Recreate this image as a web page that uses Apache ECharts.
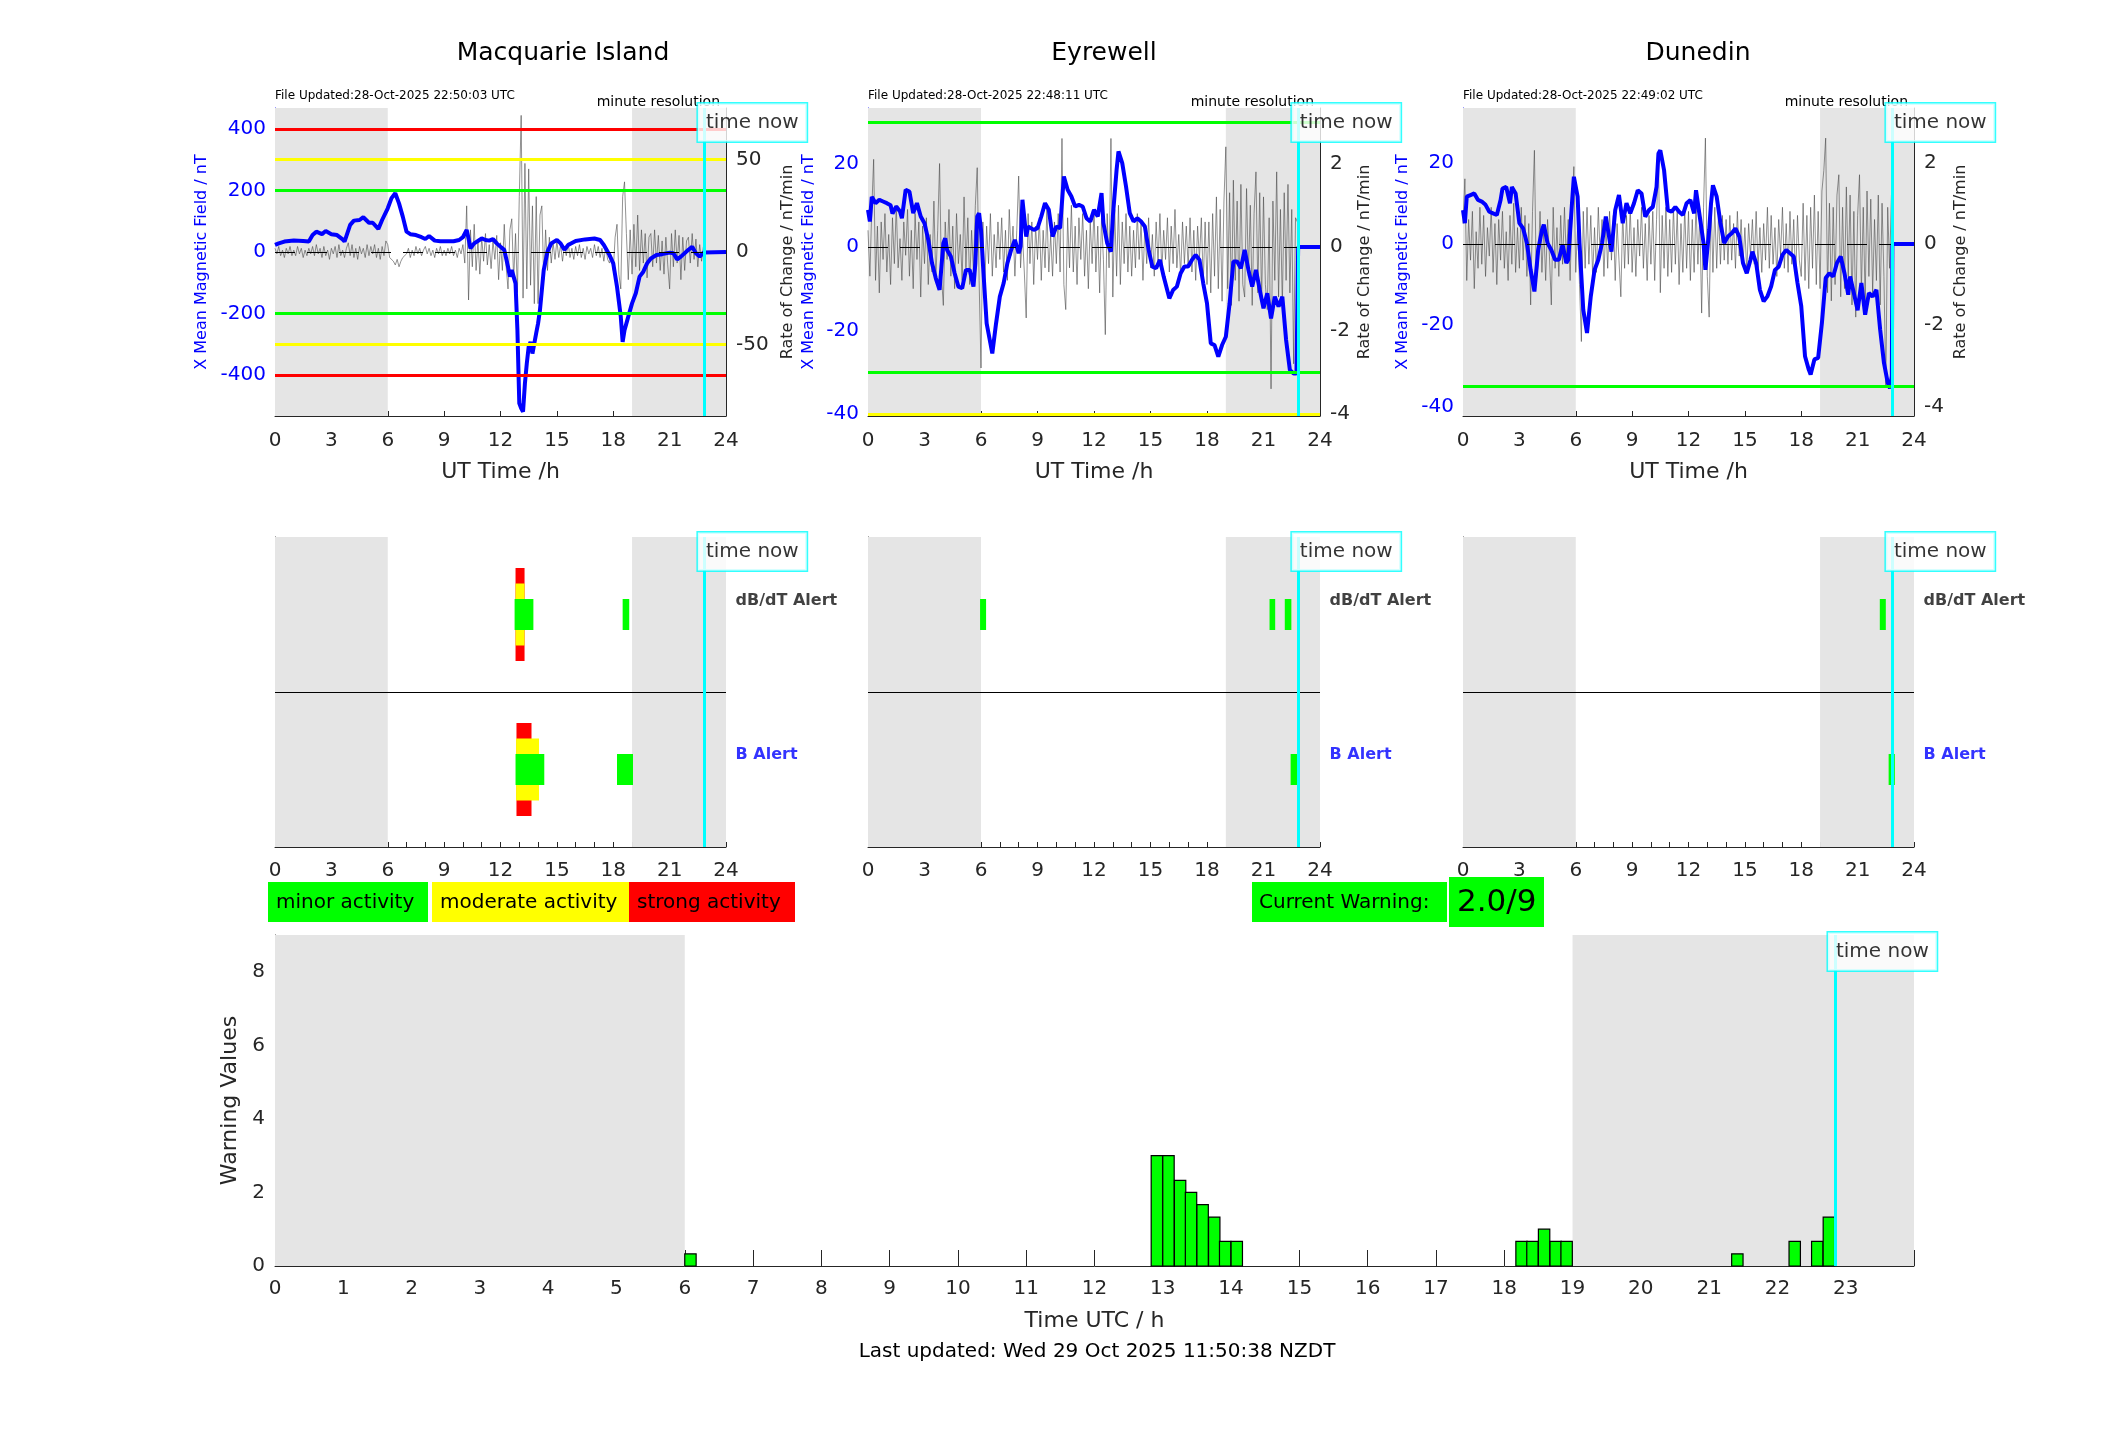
<!DOCTYPE html>
<html><head><meta charset="utf-8">
<script src="https://cdn.jsdelivr.net/npm/echarts@6/dist/echarts.min.js"></script>
<style>html,body{margin:0;padding:0;background:#fff}#c{width:2117px;height:1437px}</style>
</head><body><div id="c"></div>
<script>
// ---------------- DATA ----------------
const stationNames = ['Macquarie Island', 'Eyrewell', 'Dunedin'];
const fileUpdated = ['File Updated:28-Oct-2025 22:50:03 UTC', 'File Updated:28-Oct-2025 22:48:11 UTC', 'File Updated:28-Oct-2025 22:49:02 UTC'];
const timeNow = 22.85;
const dayBands = [[0, 6], [19, 24]];

// axis extents (field nT) and field/rate ratio
const macFieldRange = [-533, 468];
const eyrFieldRange = [-40.5, 33.3];
const dunFieldRange = [-42.3, 33.4];
const fieldToRate = [6, 10, 10];
const macFieldTicks = [-400, -200, 0, 200, 400];
const eyrFieldTicks = [-40, -20, 0, 20];
const dunFieldTicks = [-40, -20, 0, 20];
const macRateTicks = [-50, 0, 50];
const eyrRateTicks = [-4, -2, 0, 2];
const dunRateTicks = [-4, -2, 0, 2];

// alert threshold lines: value and level (1 minor, 2 moderate, 3 strong)
const macLevelValues = [400, 300, 200, -200, -300, -400];
const macLevelKinds = [3, 2, 1, 1, 2, 3];
const eyrLevelValues = [30, -30, -40];
const eyrLevelKinds = [1, 1, 2];
const dunLevelValues = [-35];
const dunLevelKinds = [1];

// X mean magnetic field [hour, nT]
const macField = [[0,23],[0.2,28],[0.5,34],[1.0,37],[1.5,36],[1.8,34],[2.0,55],[2.2,66],[2.5,58],[2.7,68],[3.0,58],[3.3,55],[3.6,41],[3.7,34],[4.0,88],[4.2,102],[4.5,104],[4.7,113],[5.0,95],[5.2,95],[5.5,75],[5.7,104],[6.0,142],[6.2,175],[6.4,191],[6.6,158],[6.8,115],[7.0,66],[7.2,58],[7.5,55],[7.8,48],[8.0,42],[8.2,52],[8.5,37],[8.8,35],[9.0,35],[9.5,35],[9.8,39],[10.0,48],[10.2,72],[10.3,44],[10.4,12],[10.6,28],[11.0,44],[11.2,39],[11.4,37],[11.6,42],[11.8,28],[12.0,17],[12.2,7],[12.4,-48],[12.5,-80],[12.6,-59],[12.8,-102],[12.9,-254],[13.0,-492],[13.1,-508],[13.2,-519],[13.3,-427],[13.4,-362],[13.5,-308],[13.6,-292],[13.7,-330],[13.8,-297],[13.9,-264],[14.0,-232],[14.1,-189],[14.2,-124],[14.3,-59],[14.5,1],[14.7,28],[15.0,39],[15.2,28],[15.4,7],[15.6,23],[16.0,36],[16.5,41],[17.0,44],[17.3,39],[17.5,23],[17.8,-10],[18.0,-37],[18.2,-113],[18.4,-210],[18.5,-292],[18.6,-254],[18.8,-210],[19.0,-167],[19.2,-134],[19.4,-80],[19.6,-64],[19.8,-37],[20.0,-21],[20.3,-10],[20.6,-7],[21.0,-2],[21.2,-4],[21.4,-24],[21.6,-15],[22.0,7],[22.2,17],[22.4,-4],[22.6,-15],[22.8,-2],[22.86,0],[24,0]];
const eyrField = [[0,8.9],[0.1,6.1],[0.2,12],[0.4,10.5],[0.6,11.3],[0.8,10.9],[1.0,10.5],[1.2,10],[1.3,8],[1.5,9.7],[1.7,8.5],[1.8,6.9],[2.0,13.7],[2.2,13.3],[2.4,8.1],[2.6,10.5],[2.8,7.3],[3.0,5.7],[3.2,1.7],[3.4,-3.9],[3.6,-7.5],[3.8,-10.3],[4.0,0.9],[4.1,2.1],[4.2,-0.7],[4.4,-2.3],[4.6,-6.3],[4.8,-9.5],[5.0,-9.9],[5.2,-5.5],[5.4,-5.5],[5.6,-9.5],[5.7,-3.9],[5.8,7.3],[5.9,8.1],[6.0,4.1],[6.1,-3.9],[6.3,-18.3],[6.5,-23.1],[6.6,-25.5],[6.8,-18.3],[7.0,-11.9],[7.2,-8.7],[7.4,-3.9],[7.6,-0.7],[7.8,1.7],[8.0,-1.5],[8.1,0.1],[8.2,11.3],[8.3,10.9],[8.4,2.5],[8.5,4.9],[8.8,4.1],[9.0,4.5],[9.2,7.3],[9.4,10.5],[9.6,8.9],[9.8,2.5],[10.0,4.9],[10.2,4.5],[10.4,16.9],[10.6,13.7],[10.8,12.1],[11.0,9.7],[11.2,10.1],[11.4,9.7],[11.6,6.9],[11.8,6.1],[12.0,8.9],[12.2,7.3],[12.4,12.9],[12.5,5.7],[12.7,0.9],[12.9,-1.1],[13.0,7.3],[13.2,18.5],[13.3,22.9],[13.5,20.1],[13.7,14.5],[13.9,8.1],[14.1,6.1],[14.3,6.9],[14.5,6.1],[14.7,4.9],[14.9,-0.7],[15.1,-4.7],[15.3,-5.1],[15.5,-3.1],[15.7,-7.1],[16.0,-12.3],[16.2,-10.3],[16.4,-9.5],[16.6,-6.3],[16.8,-4.7],[17.0,-4.7],[17.2,-3.1],[17.4,-1.9],[17.6,-3.1],[17.8,-8.7],[18.0,-13.5],[18.2,-23.1],[18.4,-23.5],[18.6,-26.3],[18.8,-23.5],[19.0,-21.5],[19.2,-13.5],[19.4,-3.5],[19.6,-3.5],[19.8,-5.1],[20.0,-0.7],[20.2,-5.5],[20.4,-9.5],[20.6,-5.5],[20.8,-10.3],[21.0,-14.7],[21.2,-11.1],[21.4,-17.1],[21.6,-11.9],[21.8,-14.3],[22.0,-11.9],[22.2,-22.3],[22.4,-29.5],[22.6,-30.3],[22.75,-30.3],[22.82,-30.6],[22.84,0],[24,0]];
const dunField = [[0,8.3],[0.1,5.1],[0.2,11.6],[0.4,12],[0.6,12.4],[0.8,10.8],[1.0,10.4],[1.2,9.6],[1.4,7.9],[1.6,7.5],[1.8,7.1],[2.0,10.8],[2.1,13.6],[2.3,14],[2.5,10],[2.6,14],[2.8,12.4],[3.0,5.1],[3.2,3.8],[3.4,0.2],[3.6,-6.4],[3.8,-11.7],[4.0,-1.5],[4.2,3.4],[4.3,4.7],[4.5,0.2],[4.7,-1.5],[4.9,-3.9],[5.1,-3.9],[5.3,-0.2],[5.5,-4.7],[5.6,-3.9],[5.8,10],[5.9,16.5],[6.1,11.6],[6.2,0.2],[6.4,-16.2],[6.6,-21.9],[6.8,-12.9],[7.0,-6.4],[7.2,-3.9],[7.4,0.2],[7.6,6.7],[7.8,1],[7.9,-1.9],[8.1,8.3],[8.3,12],[8.5,5.1],[8.7,10],[8.9,7.5],[9.1,10],[9.3,13.2],[9.5,12.4],[9.7,6.7],[9.9,8.3],[10.1,9.1],[10.3,14],[10.4,22.2],[10.5,23],[10.7,18.1],[10.9,8.3],[11.1,7.9],[11.3,9.1],[11.5,7.9],[11.7,7.1],[11.9,10],[12.1,10.8],[12.3,7.5],[12.4,13.2],[12.6,6.7],[12.8,0.2],[12.9,-6.4],[13.1,3.4],[13.2,10],[13.3,14.4],[13.5,11.6],[13.7,5.1],[13.9,0.2],[14.1,1.8],[14.3,2.6],[14.5,3.8],[14.7,1.8],[14.9,-4.7],[15.1,-7.2],[15.3,-3.9],[15.4,-1.9],[15.6,-4.7],[15.8,-11.3],[16.0,-14.1],[16.2,-12.9],[16.4,-10.4],[16.6,-6.4],[16.8,-5.6],[17.0,-2.7],[17.2,-1.5],[17.4,-2.3],[17.6,-3.1],[17.8,-9.6],[18.0,-15.3],[18.2,-27.6],[18.4,-30.9],[18.5,-32.1],[18.7,-28.4],[18.9,-28],[19.1,-19.4],[19.3,-8.4],[19.5,-7.2],[19.7,-8],[19.9,-4.7],[20.1,-3.1],[20.3,-7.2],[20.5,-12.5],[20.6,-8],[20.8,-12.1],[21.0,-16.3],[21.2,-9.6],[21.4,-17.4],[21.6,-12.1],[21.8,-12.9],[22.0,-11.3],[22.2,-21.1],[22.4,-29.2],[22.6,-34.1],[22.72,-35.5],[22.82,-32.5],[22.85,0],[24,0]];

// rate of change (nT/min) sampled at these hours
const rateTime = [0,0.1,0.2,0.3,0.4,0.5,0.6,0.7,0.8,0.9, 1,1.1,1.2,1.3,1.4,1.5,1.6,1.7,1.8,1.9, 2,2.1,2.2,2.3,2.4,2.5,2.6,2.7,2.8,2.9, 3,3.1,3.2,3.3,3.4,3.5,3.6,3.7,3.8,3.9, 4,4.1,4.2,4.3,4.4,4.5,4.6,4.7,4.8,4.9, 5,5.1,5.2,5.3,5.4,5.5,5.6,5.7,5.8,5.9, 6,6.1,6.2,6.3,6.4,6.5,6.6,6.7,6.8,6.9, 7,7.1,7.2,7.3,7.4,7.5,7.6,7.7,7.8,7.9, 8,8.1,8.2,8.3,8.4,8.5,8.6,8.7,8.8,8.9, 9,9.1,9.2,9.3,9.4,9.5,9.6,9.7,9.8,9.9, 10,10.1,10.2,10.3,10.4,10.5,10.6,10.7,10.8,10.9, 11,11.1,11.2,11.3,11.4,11.5,11.6,11.7,11.8,11.9, 12,12.1,12.2,12.3,12.4,12.5,12.6,12.7,12.8,12.9, 13,13.1,13.2,13.3,13.4,13.5,13.6,13.7,13.8,13.9, 14,14.1,14.2,14.3,14.4,14.5,14.6,14.7,14.8,14.9, 15,15.1,15.2,15.3,15.4,15.5,15.6,15.7,15.8,15.9, 16,16.1,16.2,16.3,16.4,16.5,16.6,16.7,16.8,16.9, 17,17.1,17.2,17.3,17.4,17.5,17.6,17.7,17.8,17.9, 18,18.1,18.2,18.3,18.4,18.5,18.6,18.7,18.8,18.9, 19,19.1,19.2,19.3,19.4,19.5,19.6,19.7,19.8,19.9, 20,20.1,20.2,20.3,20.4,20.5,20.6,20.7,20.8,20.9, 21,21.1,21.2,21.3,21.4,21.5,21.6,21.7,21.8,21.9, 22,22.1,22.2,22.3,22.4,22.5,22.6,22.7,22.8];
const macRate = [2,-1,3,-2,1,-3,2,-1,3,-2, 1,-2,3,-1,2,-3,1,-2,2,-1, 3,-2,4,-1,2,-3,3,-2,1,-4, 2,-1,3,-3,4,-2,1,-3,2,5, -2,4,-3,2,-4,3,-1,2,-3,4, -2,3,-1,4,-3,2,-4,3,-2,6, 4,-3,-2,-5,-7,-4,-8,-5,-3,-2, -1,2,-3,1,-2,3,-1,2,-2,1, 3,-1,2,-2,1,-3,2,-1,3,-2, 1,-2,2,-1,3,-2,1,-3,2,-1, 4,-6,25,-26,12,-8,15,-10,6,-12, 8,-5,10,-7,4,-9,6,-4,9,-15, 5,-10,15,-8,-20,12,18,-15,10,-22, 30,74,-25,48,-20,45,-18,25,-28,30, -28,20,25,-15,12,-10,8,-6,5,-4, 6,-3,4,-5,3,-2,5,-3,2,-4, 3,-2,4,-3,2,-4,3,-1,2,-3, 4,-2,3,-3,2,-5,3,-4,-6,-2, -10,8,15,-12,-20,30,38,10,-15,12, -12,15,-8,20,-10,12,-6,10,-14,8, 10,-8,12,-6,9,-10,6,-12,8,-7, -20,10,-8,12,-6,9,-15,8,-10,6, 8,-6,10,-4,7,-8,4,-5,3];
const eyrRate = [0.4,-0.7,0.9,2.1,-0.8,0.5,-1.1,0.6,-0.3,0.8, -0.6,0.3,-0.9,0.7,-0.4,1.0,-0.5,0.2,-0.8,0.6, -0.2,0.9,-0.7,0.4,-1.0,0.8,-0.3,0.6,-1.2,0.5, -0.4,0.7,-0.9,0.3,-0.6,1.1,-0.8,0.4,2.0,-0.7, -1.4,0.6,-0.3,0.9,-0.7,0.5,-1.0,0.8,-0.4,0.3, -0.8,1.2,-0.5,0.7,-0.9,0.4,-0.6,1.0,1.9,-0.8, -2.9,0.6,-1.0,0.5,-0.4,0.8,-0.7,0.3,-0.5,0.6, -0.3,0.7,-0.6,0.4,-0.8,0.9,-0.2,0.5,-0.7,0.4, 1.7,-0.5,0.3,-0.6,-1.7,0.8,-0.4,0.6,-0.9,0.5, -0.3,0.7,-0.8,0.4,-0.5,0.9,-0.6,0.3,-0.7,0.6, -0.4,0.8,-0.6,2.6,-0.9,-1.5,0.7,-0.5,1.0,-0.6, 0.5,-0.9,0.7,-0.3,0.8,-0.7,0.4,-1.0,0.6,-0.4, 0.9,-0.6,0.5,-1.1,0.7,-0.3,-2.1,0.8,-0.5,2.6, -1.2,0.9,-0.7,1.0,-0.9,0.6,-0.4,0.8,-0.6,0.5, -0.7,0.4,-0.5,0.8,-0.3,0.6,-0.8,0.5,-0.4,0.7, -0.5,0.3,-0.7,0.6,-0.4,0.8,-0.6,0.4,-0.3,0.7, -0.6,0.5,-0.4,0.9,-0.5,0.3,-0.7,0.6,-0.4,0.5, -0.5,0.7,-0.6,0.4,-0.8,0.5,-0.3,0.7,-0.9,0.6, -0.9,0.6,-1.1,0.8,-0.7,1.2,-1.0,0.9,-1.3,1.1, 2.4,-1.0,1.3,-1.4,1.6,-0.8,1.1,-1.3,1.5,-0.9, -1.2,1.4,-0.7,1.0,-1.4,0.8,1.8,-1.1,1.3,-1.3, 1.2,-0.9,-1.5,0.7,-3.4,1.1,-0.8,1.8,-1.2,0.9, -1.4,1.3,-0.8,1.5,-1.1,0.9,-2.8,0.7,0.6];
const dunRate = [0.5,1.6,-0.9,0.6,-0.4,0.8,-1.1,0.3,-0.6,0.9, -0.5,0.7,-0.8,0.4,-0.3,0.9,-0.7,0.5,-1.0,0.6, -0.4,0.8,-0.6,0.3,-0.9,0.7,-0.5,1.0,-0.7,0.4, -0.6,0.9,-0.4,0.7,-0.8,0.5,-1.5,0.8,2.3,-0.9, -0.5,0.8,-0.7,0.4,-0.9,0.6,-0.3,-1.5,0.9,-0.6, 0.4,-0.8,0.7,-0.5,0.9,-0.4,0.6,-0.9,0.8,1.9, -0.7,0.5,-1.0,-2.4,0.8,-0.6,0.9,-0.5,0.7,-0.8, 0.4,-0.7,0.9,-0.3,0.6,-0.8,0.5,-0.6,0.8,-0.4, 0.7,-0.9,0.5,-0.4,-1.3,0.8,-0.6,0.7,-0.5,0.9, -0.7,0.4,-0.8,0.6,-0.3,0.9,-0.6,0.5,-0.9,0.7, -0.5,0.8,-0.9,0.6,2.2,-1.2,0.7,-0.6,0.9,-0.8, 0.6,-0.7,0.9,-0.5,0.8,-1.0,0.5,-0.7,0.9,-0.6, 0.8,-0.9,0.6,-0.7,1.0,-0.5,0.7,-1.7,0.9,2.6, -0.8,-1.8,1.1,-0.7,0.9,-0.6,0.8,-0.5,0.7,-0.4, 0.6,-0.5,0.7,-0.4,0.5,-0.6,0.8,-0.3,0.6,-0.5, 0.4,-0.7,0.5,-0.3,0.6,-0.5,0.8,-0.6,0.4,-0.7, 0.5,-0.4,0.9,-0.6,0.7,-0.5,0.4,-0.8,0.6,-0.3, 0.9,-0.6,0.5,-0.7,0.8,-0.5,0.6,-0.9,0.7,-0.4, -0.8,1.0,-0.9,0.7,-1.1,0.9,-0.6,1.2,-1.0,0.8, -1.1,1.3,1.8,2.6,-1.2,1.0,-1.4,0.9,-1.0,1.2, 1.7,-1.3,0.9,-1.1,1.4,-0.8,1.2,-1.5,0.8,-1.8, 0.7,1.7,-1.2,0.9,-1.4,1.3,-0.8,1.1,-1.2,0.6, -0.9,1.2,-1.5,1.0,-0.8,-3.5,0.9,-0.6,1.2];

// alerts: [start hour, end hour, level]
const macDbdtAlerts = [[12.8,13.28,3],[12.8,13.28,2],[12.75,13.75,1],[18.5,18.85,1]];
const macBAlerts = [[12.85,13.65,3],[12.83,14.05,2],[12.8,14.33,1],[18.2,19.05,1]];
const eyrDbdtAlerts = [[5.95,6.27,1],[21.32,21.62,1],[22.13,22.48,1]];
const eyrBAlerts = [[22.44,22.84,1]];
const dunDbdtAlerts = [[22.18,22.5,1]];
const dunBAlerts = [[22.65,22.98,1]];

// warning values per 10-minute bin: start hour, value
const warnStart = [6.0,12.83,13.0,13.17,13.33,13.5,13.67,13.83,14.0,18.17,18.33,18.5,18.67,18.83,21.33,22.17,22.5,22.67];
const warnValue = [0.33,3,3,2.33,2,1.67,1.33,0.67,0.67,0.67,0.67,1,0.67,0.67,0.33,0.67,0.67,1.33];
const warnBinHours = 1/6;
const warnTicks = [0,2,4,6,8];
const warnMax = 9;
const currentWarning = '2.0/9';
const legendLabels = ['minor activity', 'moderate activity', 'strong activity'];
const lastUpdated = 'Last updated: Wed 29 Oct 2025 11:50:38 NZDT';

// ---------------- STYLE / LAYOUT ----------------
const FONT = 'DejaVu Sans';
const TXT = '#262626';
const BLUE = '#0000ff';
const CYAN = '#00ffff';
const BAND = '#e5e5e5';
const LEVEL_COL = {1: '#00ff00', 2: '#ffff00', 3: '#ff0000'};
const ALERT_HALF = {1: 0.2, 2: 0.4, 3: 0.6};

const panelX = [{left: 275, width: 451}, {left: 868, width: 452}, {left: 1463, width: 451}];
const TOP = {top: 108, height: 308};
const MID = {top: 537, height: 310};
const BOT = {left: 275, width: 1639, top: 935, height: 331};
const titleX = [563, 1104, 1698];
const leftNameGap = [65, 51, 52];
const rightNameGap = [54, 37, 39];

const st = [
  {field: macField, rate: macRate, range: macFieldRange, fTicks: macFieldTicks, rTicks: macRateTicks, lv: macLevelValues, lk: macLevelKinds, dbdt: macDbdtAlerts, b: macBAlerts},
  {field: eyrField, rate: eyrRate, range: eyrFieldRange, fTicks: eyrFieldTicks, rTicks: eyrRateTicks, lv: eyrLevelValues, lk: eyrLevelKinds, dbdt: eyrDbdtAlerts, b: eyrBAlerts},
  {field: dunField, rate: dunRate, range: dunFieldRange, fTicks: dunFieldTicks, rTicks: dunRateTicks, lv: dunLevelValues, lk: dunLevelKinds, dbdt: dunDbdtAlerts, b: dunBAlerts}
];

const grids = [], xAxes = [], yAxes = [], series = [], graphics = [];
const baseAxisLine = (c) => ({show: true, onZero: false, lineStyle: {color: c, width: 1}});

function bandSeries(xi, yi) {
  return {type: 'line', xAxisIndex: xi, yAxisIndex: yi, data: [], z: 1, silent: true,
    markArea: {silent: true, itemStyle: {color: BAND}, data: dayBands.map(b => [{xAxis: b[0]}, {xAxis: b[1]}])}};
}
function nowSeries(xi, yi, yTop, dx, dy) {
  return {type: 'scatter', xAxisIndex: xi, yAxisIndex: yi, z: 8, clip: false, silent: true,
    symbolSize: 1, itemStyle: {color: 'rgba(0,0,0,0)'}, data: [[timeNow, yTop]],
    label: {show: true, formatter: 'time now', position: [dx, dy], color: '#000', fontFamily: FONT, fontSize: 20,
      backgroundColor: '#fff', borderColor: CYAN, borderWidth: 1.5, padding: [7, 8, 7, 8], lineHeight: 24},
    markLine: {silent: true, symbol: 'none', label: {show: false}, z: 7,
      lineStyle: {color: CYAN, width: 3, type: 'solid'}, data: [{xAxis: timeNow}]}};
}

// ---- top panels ----
st.forEach((s, i) => {
  const g = grids.length;
  grids.push({left: panelX[i].left, width: panelX[i].width, top: TOP.top, height: TOP.height, containLabel: false, outerBoundsMode: 'none'});
  xAxes.push({gridIndex: g, type: 'value', min: 0, max: 24, interval: 3,
    axisLine: baseAxisLine(TXT), axisTick: {show: true, inside: true, length: 5, lineStyle: {color: TXT}},
    axisLabel: {fontFamily: FONT, fontSize: 20, color: TXT, margin: 15}, splitLine: {show: false},
    name: 'UT Time /h', nameLocation: 'middle', nameGap: 45, nameTextStyle: {fontFamily: FONT, fontSize: 22, color: TXT}});
  const yl = yAxes.length;
  yAxes.push({gridIndex: g, type: 'value', position: 'left', min: s.range[0], max: s.range[1],
    axisLine: baseAxisLine(BLUE), axisTick: {show: true, inside: true, length: 5, customValues: s.fTicks, lineStyle: {color: BLUE}},
    axisLabel: {customValues: s.fTicks, fontFamily: FONT, fontSize: 20, color: BLUE, margin: 9}, splitLine: {show: false},
    name: 'X Mean Magnetic Field / nT', nameLocation: 'middle', nameRotate: 90, nameGap: leftNameGap[i],
    nameTextStyle: {fontFamily: FONT, fontSize: 16, color: BLUE}});
  const k = fieldToRate[i];
  yAxes.push({gridIndex: g, type: 'value', position: 'right', min: s.range[0] / k, max: s.range[1] / k,
    axisLine: baseAxisLine(TXT), axisTick: {show: true, inside: true, length: 5, customValues: s.rTicks, lineStyle: {color: TXT}},
    axisLabel: {customValues: s.rTicks, fontFamily: FONT, fontSize: 20, color: TXT, margin: 10}, splitLine: {show: false},
    name: 'Rate of Change / nT/min', nameLocation: 'middle', nameRotate: 90, nameGap: rightNameGap[i],
    nameTextStyle: {fontFamily: FONT, fontSize: 16, color: TXT}});
  series.push(bandSeries(g, yl));
  series.push({type: 'line', xAxisIndex: g, yAxisIndex: yl, data: [], z: 2, silent: true,
    markLine: {silent: true, symbol: 'none', label: {show: false},
      data: s.lv.map((v, j) => ({yAxis: v, lineStyle: {color: LEVEL_COL[s.lk[j]], width: 3, type: 'solid'}}))}});
  series.push({type: 'line', xAxisIndex: g, yAxisIndex: yl + 1, z: 3, silent: true, showSymbol: false,
    data: rateTime.map((t, j) => [t, s.rate[j]]), lineStyle: {color: '#4a4a4a', width: 0.6},
    markLine: {silent: true, symbol: 'none', label: {show: false}, lineStyle: {color: '#000', width: 1, type: [20, 12]},
      data: [[{coord: [0, 0]}, {coord: [timeNow, 0]}]]}});
  series.push({type: 'line', xAxisIndex: g, yAxisIndex: yl, z: 4, silent: true, showSymbol: false,
    data: s.field, lineStyle: {color: BLUE, width: 4}});
  series.push(nowSeries(g, yl, s.range[1], -6, -4));
  graphics.push({type: 'text', x: titleX[i], y: 53, style: {text: stationNames[i], fill: '#000', fontFamily: FONT, fontSize: 25, align: 'center', verticalAlign: 'middle', textAlign: 'center', textVerticalAlign: 'middle'}});
  graphics.push({type: 'text', x: panelX[i].left, y: 96, style: {text: fileUpdated[i], fill: '#000', fontFamily: FONT, fontSize: 12, align: 'left', verticalAlign: 'middle', textAlign: 'left', textVerticalAlign: 'middle'}});
  graphics.push({type: 'text', x: panelX[i].left + panelX[i].width - 6, y: 102, style: {text: 'minute resolution', fill: '#000', fontFamily: FONT, fontSize: 14, align: 'right', verticalAlign: 'middle', textAlign: 'right', textVerticalAlign: 'middle'}});
});

// ---- middle alert panels ----
const alertRender = (params, api) => {
  const lvl = api.value(2), row = api.value(3), h = ALERT_HALF[lvl];
  const a = api.coord([api.value(0), row + h]);
  const b = api.coord([api.value(1), row - h]);
  return {type: 'rect', shape: {x: a[0], y: a[1], width: b[0] - a[0], height: b[1] - a[1]}, style: {fill: LEVEL_COL[lvl]}};
};
st.forEach((s, i) => {
  const g = grids.length;
  grids.push({left: panelX[i].left, width: panelX[i].width, top: MID.top, height: MID.height, containLabel: false, outerBoundsMode: 'none'});
  xAxes.push({gridIndex: g, type: 'value', min: 0, max: 24, interval: 3,
    axisLine: baseAxisLine(TXT), axisTick: {show: true, inside: true, length: 5, lineStyle: {color: TXT}},
    minorTick: {show: true, splitNumber: 3, length: 5, lineStyle: {color: TXT}},
    axisLabel: {fontFamily: FONT, fontSize: 20, color: TXT, margin: 14}, splitLine: {show: false}, minorSplitLine: {show: false}});
  const yi = yAxes.length;
  yAxes.push({gridIndex: g, type: 'value', min: 0, max: 4,
    axisLine: baseAxisLine(TXT), axisTick: {show: true, inside: true, length: 5, customValues: [1, 3], lineStyle: {color: TXT}},
    axisLabel: {show: false}, splitLine: {show: false}});
  const b = bandSeries(g, yi);
  b.markLine = {silent: true, symbol: 'none', label: {show: false}, lineStyle: {color: '#000', width: 1.2, type: 'solid'}, data: [{yAxis: 2}]};
  series.push(b);
  const items = s.dbdt.map(a => [a[0], a[1], a[2], 3]).concat(s.b.map(a => [a[0], a[1], a[2], 1]))
    .sort((p, q) => q[2] - p[2]);
  series.push({type: 'custom', xAxisIndex: g, yAxisIndex: yi, z: 3, silent: true, renderItem: alertRender,
    encode: {x: [0, 1], y: 3}, data: items});
  series.push({type: 'scatter', xAxisIndex: g, yAxisIndex: yi, z: 6, clip: false, silent: true, symbolSize: 1,
    itemStyle: {color: 'rgba(0,0,0,0)'},
    label: {show: true, position: 'right', distance: 9, fontFamily: FONT, fontSize: 16, fontWeight: 'bold'},
    data: [{value: [24, 3.18], label: {formatter: 'dB/dT Alert', color: '#111111'}}, {value: [24, 1.19], label: {formatter: 'B Alert', color: BLUE}}]});
  series.push(nowSeries(g, yi, 4, -6, -4));
});

// ---- bottom warning panel ----
{
  const g = grids.length;
  grids.push({left: BOT.left, width: BOT.width, top: BOT.top, height: BOT.height, containLabel: false, outerBoundsMode: 'none'});
  xAxes.push({gridIndex: g, type: 'value', min: 0, max: 24, interval: 1,
    axisLine: baseAxisLine(TXT), axisTick: {show: true, inside: true, length: 16, lineStyle: {color: TXT}},
    axisLabel: {fontFamily: FONT, fontSize: 20, color: TXT, margin: 13, formatter: v => (v === 24 ? '' : String(v))},
    splitLine: {show: false},
    name: 'Time UTC / h', nameLocation: 'middle', nameGap: 44, nameTextStyle: {fontFamily: FONT, fontSize: 22, color: TXT}});
  const yi = yAxes.length;
  yAxes.push({gridIndex: g, type: 'value', min: 0, max: warnMax,
    axisLine: baseAxisLine(TXT), axisTick: {show: true, inside: true, length: 16, customValues: warnTicks, lineStyle: {color: TXT}},
    axisLabel: {customValues: warnTicks, fontFamily: FONT, fontSize: 20, color: TXT, margin: 10}, splitLine: {show: false},
    name: 'Warning Values', nameLocation: 'middle', nameRotate: 90, nameGap: 32, nameTextStyle: {fontFamily: FONT, fontSize: 22, color: TXT}});
  series.push(bandSeries(g, yi));
  series.push({type: 'custom', xAxisIndex: g, yAxisIndex: yi, z: 3, silent: true,
    data: warnStart.map((t, j) => [t, warnValue[j]]), encode: {x: 0, y: 1},
    renderItem: (params, api) => {
      const a = api.coord([api.value(0), api.value(1)]);
      const b = api.coord([api.value(0) + warnBinHours, 0]);
      return {type: 'rect', shape: {x: a[0], y: a[1], width: b[0] - a[0], height: b[1] - a[1]},
        style: {fill: '#00ff00', stroke: '#000', lineWidth: 1.2}};
    }});
  series.push(nowSeries(g, yi, warnMax, -7, -2));
}

// ---- legend and status boxes ----
const legendBoxes = [{x: 268, w: 160}, {x: 432, w: 197}, {x: 629, w: 166}];
legendBoxes.forEach((b, j) => {
  graphics.push({type: 'rect', shape: {x: b.x, y: 882, width: b.w, height: 40}, style: {fill: LEVEL_COL[j + 1]}});
  graphics.push({type: 'text', x: b.x + 8, y: 903, style: {text: legendLabels[j], fill: '#000', fontFamily: FONT, fontSize: 20, align: 'left', verticalAlign: 'middle', textAlign: 'left', textVerticalAlign: 'middle'}});
});
graphics.push({type: 'rect', shape: {x: 1252, y: 882, width: 195, height: 40}, style: {fill: '#00ff00'}});
graphics.push({type: 'text', x: 1259, y: 903, style: {text: 'Current Warning:', fill: '#000', fontFamily: FONT, fontSize: 20, align: 'left', verticalAlign: 'middle', textAlign: 'left', textVerticalAlign: 'middle'}});
graphics.push({type: 'rect', shape: {x: 1449, y: 877, width: 95, height: 50}, style: {fill: '#00ff00'}});
graphics.push({type: 'text', x: 1457, y: 903, style: {text: currentWarning, fill: '#000', fontFamily: FONT, fontSize: 31, align: 'left', verticalAlign: 'middle', textAlign: 'left', textVerticalAlign: 'middle'}});
graphics.push({type: 'text', x: 1097, y: 1352, style: {text: lastUpdated, fill: '#000', fontFamily: FONT, fontSize: 20, align: 'center', verticalAlign: 'middle', textAlign: 'center', textVerticalAlign: 'middle'}});

const chart = echarts.init(document.getElementById('c'), null, {renderer: 'canvas', width: 2117, height: 1437});
chart.setOption({
  backgroundColor: '#ffffff',
  animation: false,
  textStyle: {fontFamily: FONT},
  grid: grids, xAxis: xAxes, yAxis: yAxes, series: series,
  graphic: {elements: graphics}
});
</script></body></html>
